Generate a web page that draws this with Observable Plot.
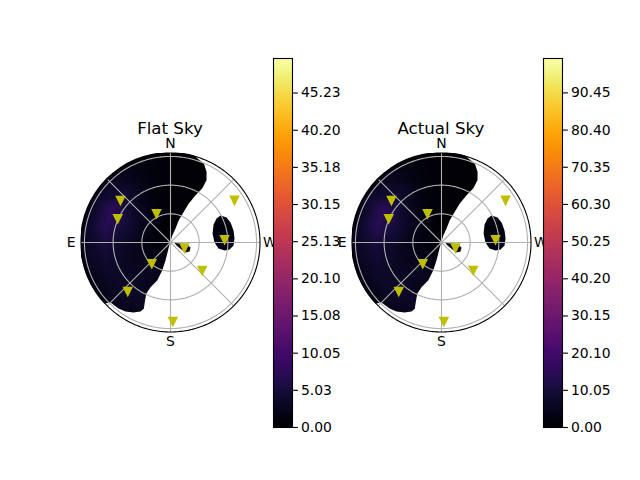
<!DOCTYPE html>
<html><head><meta charset="utf-8">
<script src="https://cdn.jsdelivr.net/npm/d3@7"></script>
<script src="https://cdn.jsdelivr.net/npm/@observablehq/plot@0.6"></script>
<style>
body{margin:0;background:#fff;}
#fig{position:relative;width:640px;height:480px;overflow:hidden;font-family:"DejaVu Sans",sans-serif;background:#fff;}
.title{position:absolute;font-size:16.67px;line-height:16.67px;text-align:center;width:200px;white-space:nowrap;color:#000;}
.heat{position:absolute;width:240px;height:240px;clip-path:circle(90px at 120px 120px);}
</style></head><body><div id="fig"></div><script>
// ---- data ----
const titles = ["Flat Sky", "Actual Sky"];
const satAz  = [50, 65.8, 26, 303.3, 272.9, 247.8, 228.5, 138.7, 138.9, 181.7];
const satZen = [68.3, 60.5, 33.4, 80.1, 56.6, 15.8, 44.3, 29.7, 68, 82.7];
const dirLabels = ["N", "E", "S", "W"];
const dirAz = [0, 90, 180, 270];
const gridZen = [30, 60, 90];
const spokeAz = [0, 45, 90, 135, 180, 225, 270, 315];
const rMax = 93.6;
const flatTicks = [0, 5.03, 10.05, 15.08, 20.10, 25.13, 30.15, 35.18, 40.20, 45.23];
const actualTicks = [0, 10.05, 20.10, 30.15, 40.20, 50.25, 60.30, 70.35, 80.40, 90.45];
const flatMax = 49.9;
const actualMax = 99.75;
// boundaries of the region with data, [azimuth, zenith]
const crescent = [[132,96],[120,96],[105,96],[90,96],[75,96],[60,96],[45,96],[30,96],[15,96],[0,96],[346.6,96],
  [341.7,92],[337.1,89.7],[333,83],[330,75.3],[329.6,65.5],[332.1,56],[334.9,45.1],[336.6,35],[339.6,24.9],[340.3,15.6],[345.8,7.2],
  [160.1,5.2],[164.5,19.6],[163.5,30.6],[160.7,42.1],[155.9,51.2],[154.7,59.4],[156.7,68],[158.1,74.8],[156.5,78.7],
  [152.1,82.9],[146.9,86.2],[141.8,87.9],[135,88.8]];
const ellipse = [[298.4,59.5],[294.1,64.2],[288.4,66.2],[280.8,67.1],[273.6,67.1],[267.3,66],[263.2,62.2],[261.6,57.1],
  [262.9,50.6],[270,46],[282.1,45],[292.7,48.8],[297.6,54.3]];
const blob = [[262.9,4.2],[264.3,10.5],[262.9,16.9],[256,21.6],[244.7,22],[236.3,18.9],[237.5,13.6],[243.4,7]];
// sampled sky values
const sampleAz = [0,
  0,45,90,135,180,225,270,315,
  0,30,60,90,120,145,180,225,270,315,
  0,25,45,65,90,115,140,180,225,275,315,
  0,20,40,60,75,90,110,125,140,180,225,270,290,330,
  0,20,40,60,80,100,120,140,180,225,270,315,
  0,30,60,90,120,150,180,210,240,270,300,330];
const sampleZen = [0,
  15,15,15,15,15,15,15,15,
  35,35,35,35,35,35,35,35,35,35,
  55,55,55,55,55,55,55,55,55,55,55,
  70,70,70,70,70,70,70,70,70,70,70,70,70,70,
  85,85,85,85,85,85,85,85,85,85,85,85,
  97,97,97,97,97,97,97,97,97,97,97,97];
const flatValues = [0.5,
  0.4,1.0,1.2,1.5,1.0,0.8,1.0,0.5,
  0.5,1.8,2.5,2.5,2.5,3.0,1.5,1.0,1.0,0.5,
  0.5,1.5,3.5,5.5,4.0,3.0,3.0,1.5,1.0,1.5,0.5,
  0.5,1.5,4.0,7.5,7.0,5.0,4.0,3.5,4.0,2.0,1.0,2.5,1.0,0.4,
  0.5,1.5,3.0,4.5,4.0,3.2,2.5,2.5,1.5,1.0,1.0,0.5,
  0.3,1.2,2.0,2.0,1.5,1.2,1.0,1.0,1.0,1.0,1.0,0.3];
const actualValues = [1.0,
  0.8,2.0,2.4,3.0,2.0,1.6,2.0,1.0,
  1.0,3.6,5.0,5.0,5.0,6.0,3.0,2.0,2.0,1.0,
  1.0,3.0,7.0,11.0,8.0,6.0,6.0,3.0,2.0,3.0,1.0,
  1.0,3.0,8.0,15.0,14.0,10.0,8.0,7.0,8.0,4.0,2.0,5.0,2.0,0.8,
  1.0,3.0,6.0,9.0,8.0,6.4,5.0,5.0,3.0,2.0,2.0,1.0,
  0.6,2.4,4.0,4.0,3.0,2.4,2.0,2.0,2.0,2.0,2.0,0.6];

// ---- helpers ----
const fig = document.getElementById("fig");
function place(el, left, top) { el.style.position = "absolute"; el.style.left = left + "px"; el.style.top = top + "px"; fig.appendChild(el); }
const toLL = ([az, zen]) => [az, 90 - zen];
const cap = r => d3.geoCircle().center([0, 90]).radius(r).precision(1)();
function ring(pts) { const r = pts.map(toLL); r.push(r[0]); return r; }
function asHole(r) { const a = d3.geoArea({type: "Polygon", coordinates: [r]}); return a < 2 * Math.PI ? r.slice().reverse() : r; }
const mask = {type: "Feature", properties: {}, geometry: {type: "Polygon",
  coordinates: [cap(97).coordinates[0], asHole(ring(crescent)), asHole(ring(ellipse)), asHole(ring(blob))]}};
const triDown = {draw(ctx, size) { const s = Math.sqrt(size / Math.PI) * 1.19; ctx.moveTo(0, s); ctx.lineTo(-s, -s); ctx.lineTo(s, -s); ctx.closePath(); }};
const rad = Math.PI / 180;
const S = 240, inset = 30.5, cy = 242;

function polar(cx, values, vmax) {
  const samples = sampleAz.map((a, i) => ({az: a, zen: sampleZen[i], v: values[i]}));
  const heat = Plot.plot({
    width: S, height: S, margin: inset,
    x: {domain: [-rMax, rMax], axis: null}, y: {domain: [-rMax, rMax], axis: null},
    color: {type: "linear", scheme: "inferno", domain: [0, vmax]},
    style: {background: "none"},
    marks: [Plot.raster(samples, {x: d => -d.zen * Math.sin(d.az * rad), y: d => d.zen * Math.cos(d.az * rad), fill: "v",
      interpolate: "barycentric", x1: -rMax, x2: rMax, y1: -rMax, y2: rMax})]
  });
  const hd = document.createElement("div"); hd.className = "heat"; hd.appendChild(heat); place(hd, cx - S / 2, cy - S / 2);
  const sats = satAz.map((a, i) => ({az: a, el: 90 - satZen[i]}));
  const svg = Plot.plot({
    width: S, height: S, margin: 0,
    projection: {type: "azimuthal-equidistant", rotate: [180, -90], domain: cap(rMax), inset},
    style: {background: "none", fontFamily: "DejaVu Sans", fontSize: "13.9px", color: "black"},
    marks: [
      Plot.geo([mask], {fill: "white", stroke: "none"}),
      Plot.geo(gridZen.map(cap), {fill: "none", stroke: "#b0b0b0", strokeWidth: 1.1}),
      Plot.link(spokeAz, {x1: d => d, y1: 90, x2: d => d, y2: 90 - rMax, stroke: "#b0b0b0", strokeWidth: 1.1}),
      Plot.geo([cap(rMax)], {fill: "none", stroke: "black", strokeWidth: 1.1}),
      Plot.dot(sats, {x: "az", y: "el", r: 3.5, symbol: triDown, fill: "#bfbf00", stroke: "#bfbf00", strokeWidth: 1.39}),
      Plot.text(dirLabels, {x: (d, i) => dirAz[i], y: 90 - 104, text: d => d, fontSize: 13.9, fill: "black"})
    ]
  });
  place(svg, cx - S / 2, cy - S / 2);
}

function colorbar(left, ticks, vmax) {
  const svg = Plot.plot({
    width: 71, height: 384, marginLeft: 2, marginRight: 50, marginTop: 5, marginBottom: 10,
    x: {domain: [0, 1], axis: null}, y: {domain: [0, vmax]},
    color: {type: "linear", scheme: "inferno", domain: [0, vmax]},
    style: {background: "none", fontFamily: "DejaVu Sans", fontSize: "13.9px", color: "black", overflow: "visible"},
    marks: [
      Plot.raster({fill: (x, y) => y, x1: 0, x2: 1, y1: 0, y2: vmax}),
      Plot.frame({stroke: "black", strokeWidth: 1.1}),
      Plot.axisY(ticks, {anchor: "right", tickSize: 4.9, tickPadding: 3.5, tickFormat: d => d.toFixed(2), strokeWidth: 1.1, label: null})
    ]
  });
  place(svg, left - 2, 58.3 - 5);
}

function title(text, cx) { const d = document.createElement("div"); d.className = "title"; d.textContent = text; place(d, cx - 100, 135 - 14.1); }

polar(170, flatValues, flatMax);
colorbar(272.7, flatTicks, flatMax);
polar(441, actualValues, actualMax);
colorbar(542.7, actualTicks, actualMax);
title(titles[0], 170);
title(titles[1], 441);
</script></body></html>
